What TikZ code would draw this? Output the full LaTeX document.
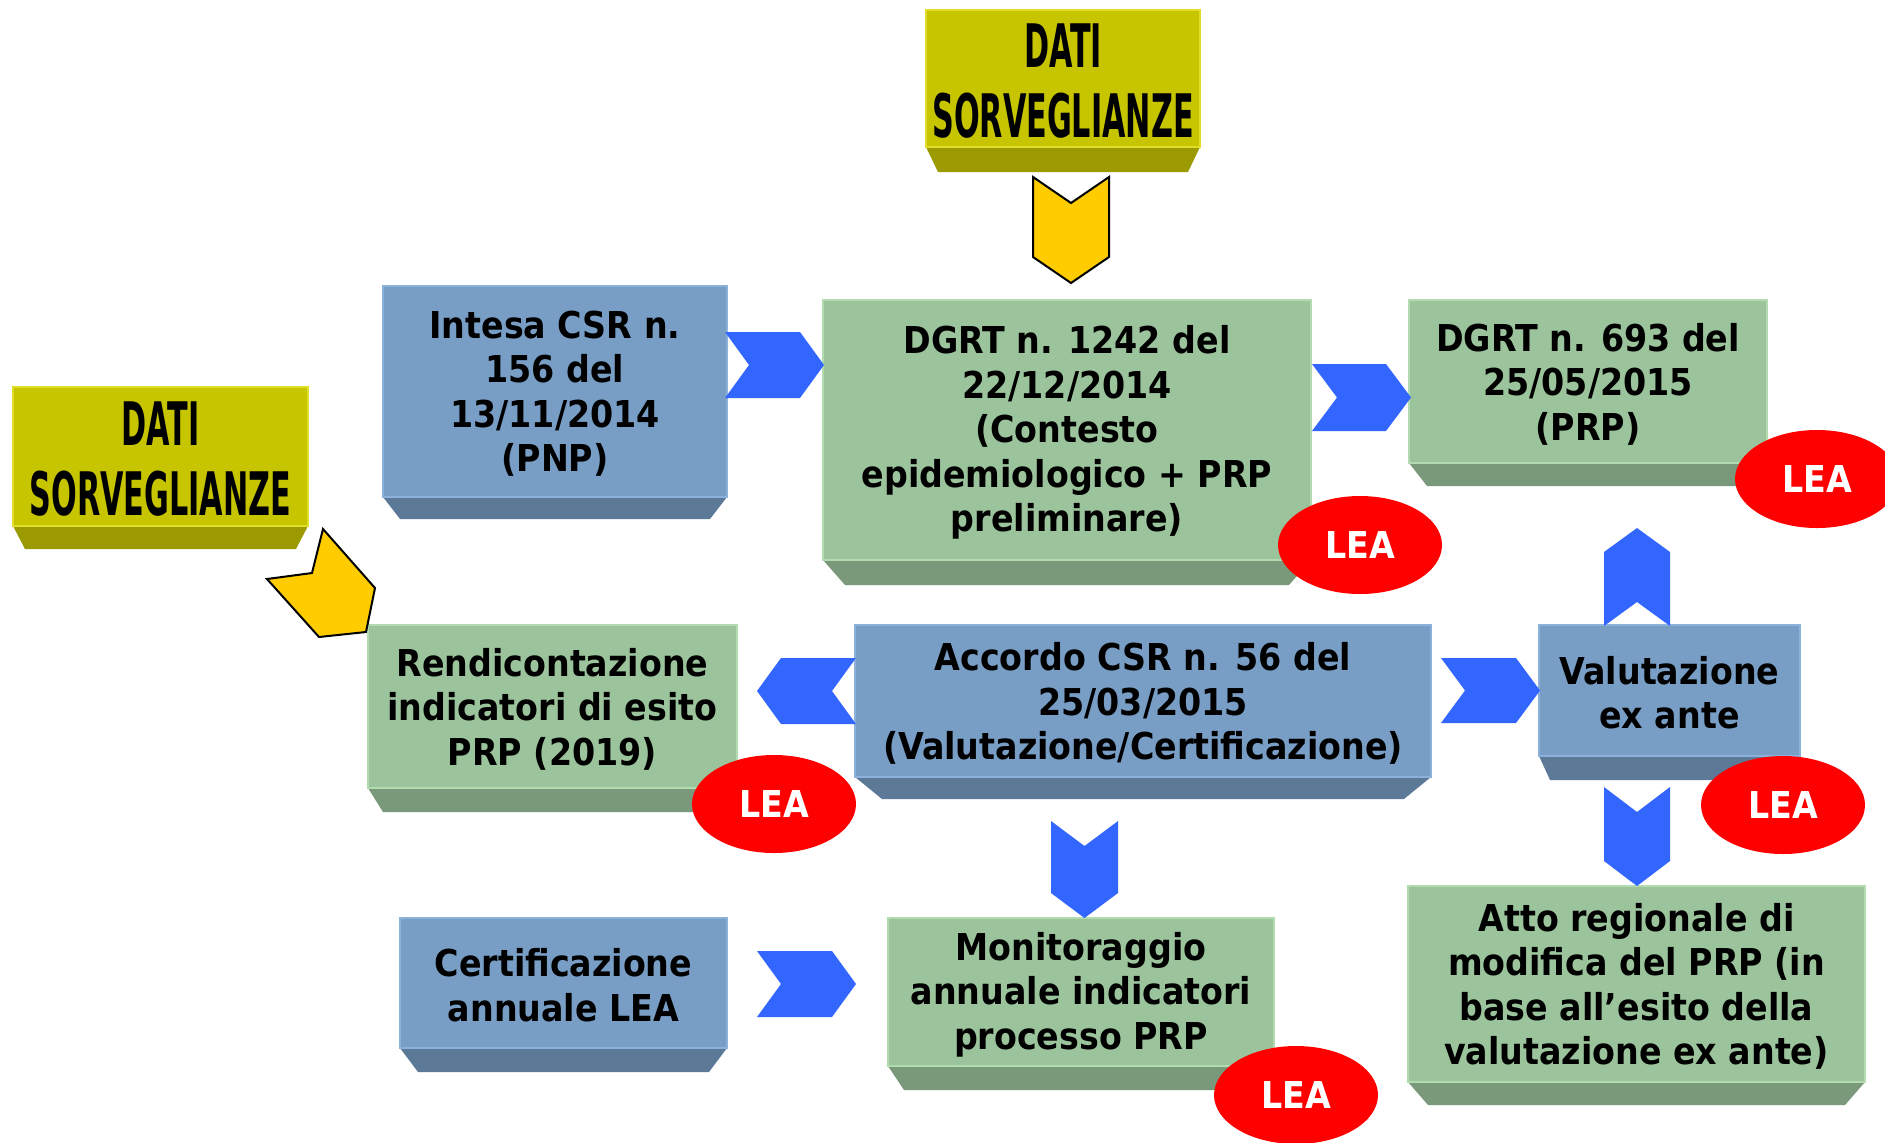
\documentclass[tikz,border=0pt]{standalone}
\usepackage{fontspec}
\usetikzlibrary{shapes.geometric}
\newfontfamily\boxfont{DejaVu Sans Condensed Bold}
\definecolor{bface}{RGB}{120,158,198}
\definecolor{bline}{RGB}{140,178,220}
\definecolor{bbev}{RGB}{92,122,152}
\definecolor{gface}{RGB}{156,196,156}
\definecolor{gline}{RGB}{178,220,176}
\definecolor{gbev}{RGB}{122,152,122}
\definecolor{yface}{RGB}{198,197,0}
\definecolor{yline}{RGB}{225,222,40}
\definecolor{ybev}{RGB}{155,154,0}
\definecolor{chevblue}{RGB}{51,102,255}
\definecolor{chevyellow}{RGB}{255,204,0}
\tikzset{
  boxbase/.style={rectangle, inner sep=0pt, align=center, line width=0.6pt, text=black,
    font=\boxfont\fontsize{18.5}{22.25}\selectfont},
  blueface/.style={boxbase, fill=bface, draw=bline},
  greenface/.style={boxbase, fill=gface, draw=gline},
  yellowface/.style={boxbase, fill=yface, draw=yline, font=\boxfont\fontsize{30}{35}\selectfont},
  bluebev/.style={fill=bbev},
  greenbev/.style={fill=gbev},
  yellowbev/.style={fill=ybev},
  bluechev/.style={fill=chevblue},
  yellowchev/.style={fill=chevyellow, draw=black, line width=1pt, line join=miter},
  lea/.style={ellipse, fill=red, text=white, inner sep=0pt, minimum width=82pt, minimum height=49pt,
    font=\boxfont\fontsize{18.5}{20}\selectfont}
}
% name, x1, y1, x2, y2 (face), bevel bottom, inset, colour prefix, text
\newcommand\flowbox[9]{%
  \fill[#8bev] (#2,#5) -- (#4,#5) -- ({#4-#7},#6) -- ({#2+#7},#6) -- cycle;
  \node[#8face, minimum width={(#4-#2)*0.5pt}, minimum height={(#5-#3)*0.5pt}] (#1) at ({(#2+#4)/2},{(#3+#5)/2}) {};
  \node[boxbase, #8face, fill=none, draw=none] at ([yshift=-1.2pt]#1.center) {#9};
}
\newcommand\chevR[6]{\path[#1] (#2,#3) -- ({#4-#6},#3) -- (#4,{(#3+#5)/2}) -- ({#4-#6},#5) -- (#2,#5) -- ({#2+#6},{(#3+#5)/2}) -- cycle;}
\newcommand\chevL[6]{\path[#1] (#2,{(#3+#5)/2}) -- ({#2+#6},#3) -- (#4,#3) -- ({#4-#6},{(#3+#5)/2}) -- (#4,#5) -- ({#2+#6},#5) -- cycle;}
\newcommand\chevD[6]{\path[#1] (#2,#3) -- ({(#2+#4)/2},{#3+#6}) -- (#4,#3) -- (#4,{#5-#6}) -- ({(#2+#4)/2},#5) -- (#2,{#5-#6}) -- cycle;}
\newcommand\chevU[6]{\path[#1] ({(#2+#4)/2},#3) -- (#4,{#3+#6}) -- (#4,#5) -- ({(#2+#4)/2},{#5-#6}) -- (#2,#5) -- (#2,{#3+#6}) -- cycle;}
\newcommand\narrowtxt[1]{\scalebox{0.56}[1]{#1}}
\begin{document}
\begin{tikzpicture}[x=0.5pt,y=-0.5pt]
\useasboundingbox (0,0) rectangle (1885,1142);
\clip (0,0) rectangle (1885,1142);
\fill[white] (0,0) rectangle (1885,1142);

\flowbox{datiA}{926}{10}{1200}{147}{172}{12}{yellow}{\narrowtxt{DATI}\\\narrowtxt{SORVEGLIANZE}}
\flowbox{datiB}{13}{387}{308}{526}{549}{12}{yellow}{\narrowtxt{DATI}\\\narrowtxt{SORVEGLIANZE}}
\flowbox{intesa}{383}{286}{727}{497}{519}{17}{blue}{Intesa CSR n.\\156 del\\13/11/2014\\(PNP)}
\flowbox{dgrtA}{823}{300}{1311}{560}{585}{22}{green}{DGRT n. 1242 del\\22/12/2014\\(Contesto\\epidemiologico + PRP\\preliminare)}
\flowbox{dgrtB}{1409}{300}{1767}{463}{486}{18}{green}{DGRT n. 693 del\\25/05/2015\\(PRP)}
\flowbox{rendi}{368}{625}{737}{788}{812}{15}{green}{Rendicontazione\\indicatori di esito\\PRP (2019)}
\flowbox{accordo}{855}{625}{1431}{777}{799}{27}{blue}{Accordo CSR n. 56 del\\25/03/2015\\(Valutazione/Certificazione)}
\flowbox{valut}{1539}{625}{1800}{756}{780}{11}{blue}{Valutazione\\ex ante}
\flowbox{certif}{400}{918}{727}{1048}{1072}{18}{blue}{Certificazione\\annuale LEA}
\flowbox{monit}{888}{918}{1274}{1066}{1090}{16}{green}{Monitoraggio\\annuale indicatori\\processo PRP}
\flowbox{atto}{1408}{886}{1865}{1082}{1105}{20}{green}{Atto regionale di\\modifica del PRP (in\\base all’esito della\\valutazione ex ante)}

% chevron arrows
\chevR{bluechev}{725}{332}{824}{398}{24}
\chevR{bluechev}{1312}{364}{1411}{431}{25}
\chevR{bluechev}{1441}{658}{1540}{723}{24}
\chevR{bluechev}{757}{951}{856}{1017}{24}
\chevL{bluechev}{757}{658}{856}{724}{24}
\chevU{bluechev}{1604}{528}{1670}{626}{24}
\chevD{bluechev}{1604}{787}{1670}{886}{25}
\chevD{bluechev}{1051}{821}{1118}{918}{25}
\chevD{yellowchev}{1033}{177}{1109}{283}{26}
\path[yellowchev] (323,529) -- (375,588) -- (366,632) -- (319,637) -- (267,579) -- (312,573) -- cycle;

% LEA badges
\node[lea] (leaA) at (1360,545) {LEA};
\node[lea] (leaB) at (1817,479) {LEA};
\node[lea] (leaC) at (774,804) {LEA};
\node[lea] (leaD) at (1783,805) {LEA};
\node[lea] (leaE) at (1296,1095) {LEA};
\end{tikzpicture}
\end{document}
